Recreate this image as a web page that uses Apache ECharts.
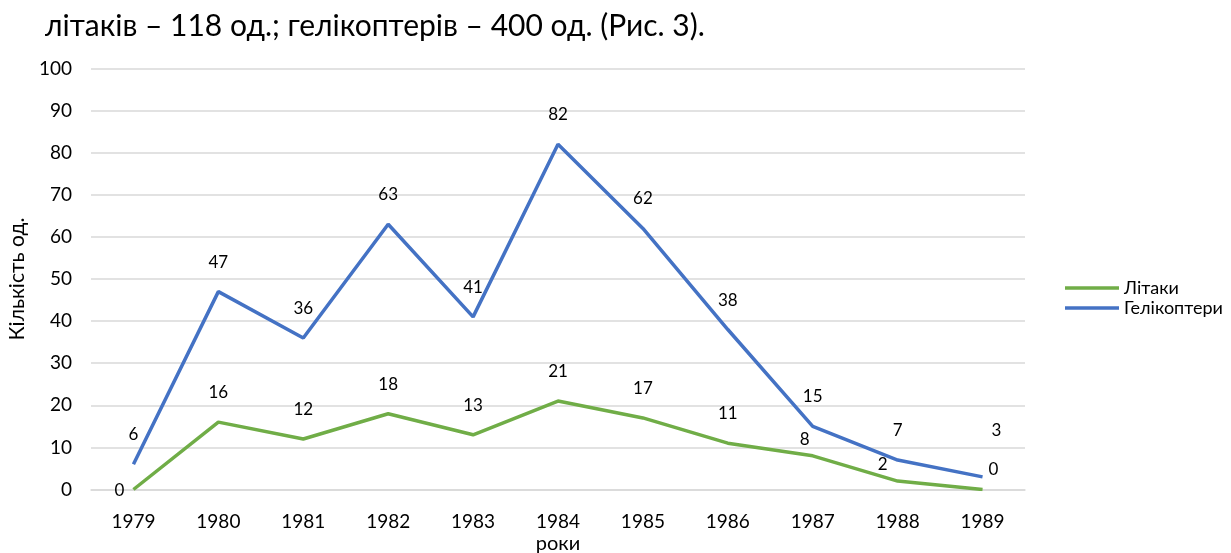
<!DOCTYPE html>
<html>
<head>
<meta charset="utf-8">
<script src="https://cdn.jsdelivr.net/npm/echarts@6/dist/echarts.min.js"></script>
<style>
  html, body { margin: 0; padding: 0; background: #fff; }
  #chart_box { width: 1231px; height: 553px; }
</style>
</head>
<body>
<div id="chart_box"></div>
<script>
// дані з рисунка
var years = ["1979", "1980", "1981", "1982", "1983", "1984", "1985", "1986", "1987", "1988", "1989"];
var planes = [0, 16, 12, 18, 13, 21, 17, 11, 8, 2, 0];        // Літаки
var helicopters = [6, 47, 36, 63, 41, 82, 62, 38, 15, 7, 3];  // Гелікоптери

// зсуви підписів, що в оригіналі стоять не над точкою
var planeLabelShift = { 0: [-14, 31], 8: [-8, 13], 9: [-15, 13], 10: [11, 10] };
var heliLabelShift = { 10: [14, -17] };

function withShift(values, shift) {
  return values.map(function (v, i) {
    if (shift[i]) return { value: v, label: { offset: shift[i] } };
    return v;
  });
}

var font = "Lato";
var mycharts = echarts.init(document.getElementById("chart_box"));

var dataLabel = {
  show: true,
  position: "top",
  distance: 21,
  fontFamily: font,
  fontSize: 17,
  color: "#000"
};

var option = {
  animation: false,
  textStyle: { fontFamily: font },
  title: {
    text: "літаків – 118 од.; гелікоптерів – 400 од. (Рис. 3).",
    left: 40,
    top: 6,
    textStyle: { fontFamily: font, fontSize: 30, fontWeight: "normal", color: "#000" }
  },
  legend: {
    orient: "vertical",
    left: 1060,
    top: 274,
    icon: "rect",
    itemWidth: 54,
    itemHeight: 3.5,
    itemGap: 2,
    textStyle: { fontFamily: font, fontSize: 18, color: "#000" },
    data: ["Літаки", "Гелікоптери"]
  },
  grid: {
    left: 91,
    right: 206,
    top: 68.5,
    bottom: 63.5,
    outerBoundsMode: "none"
  },
  xAxis: {
    type: "category",
    data: years,
    boundaryGap: true,
    name: "роки",
    nameLocation: "middle",
    nameGap: 44,
    nameMoveOverlap: false,
    nameTextStyle: { fontFamily: font, fontSize: 20, color: "#000" },
    axisLine: { lineStyle: { color: "#d9d9d9", width: 1.5 } },
    axisTick: { show: false },
    axisLabel: { fontFamily: font, fontSize: 19, color: "#000", margin: 23 }
  },
  yAxis: {
    type: "value",
    min: 0,
    max: 100,
    interval: 10,
    name: "Кількість од.",
    nameLocation: "middle",
    nameGap: 63,
    nameMoveOverlap: false,
    nameTextStyle: { fontFamily: font, fontSize: 21, color: "#000" },
    axisLabel: { fontFamily: font, fontSize: 19, color: "#000", margin: 19 },
    splitLine: { lineStyle: { color: "#d9d9d9", width: 1.5 } }
  },
  series: [
    {
      name: "Літаки",
      type: "line",
      symbol: "circle",
      symbolSize: 0,
      data: withShift(planes, planeLabelShift),
      lineStyle: { color: "#70ad47", width: 3.5 },
      itemStyle: { color: "#70ad47" },
      label: dataLabel
    },
    {
      name: "Гелікоптери",
      type: "line",
      symbol: "circle",
      symbolSize: 0,
      data: withShift(helicopters, heliLabelShift),
      lineStyle: { color: "#4472c4", width: 3.5 },
      itemStyle: { color: "#4472c4" },
      label: dataLabel
    }
  ]
};

mycharts.setOption(option);
</script>
</body>
</html>
